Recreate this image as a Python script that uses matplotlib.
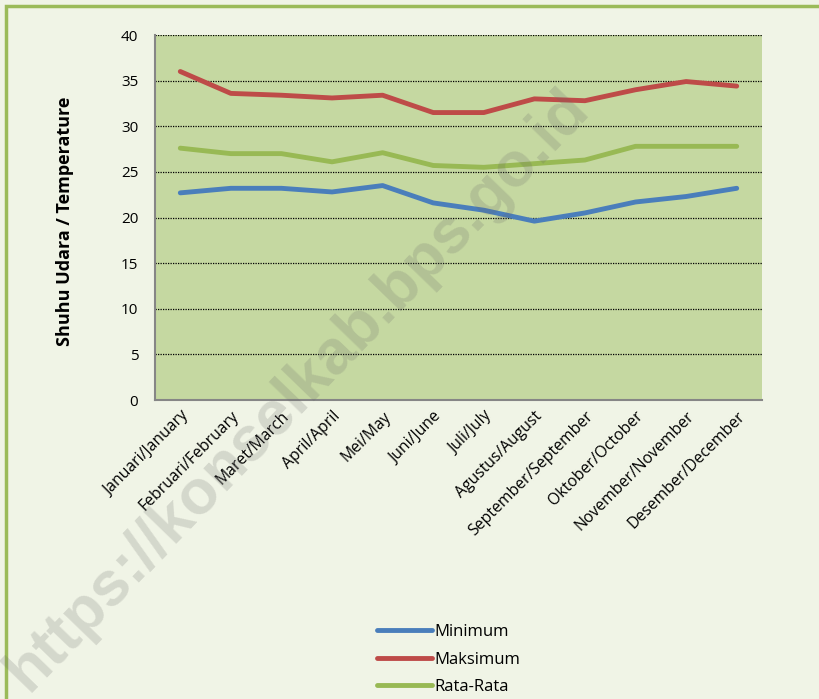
import matplotlib.pyplot as plt
from matplotlib.patches import Rectangle

months = ["Januari/January", "Februari/February", "Maret/March", "April/April",
          "Mei/May", "Juni/June", "Juli/July", "Agustus/August",
          "September/September", "Oktober/October", "November/November",
          "Desember/December"]
minimum = [22.7, 23.2, 23.2, 22.8, 23.5, 21.6, 20.8, 19.6, 20.5, 21.7, 22.3, 23.2]
maksimum = [36.0, 33.6, 33.4, 33.1, 33.4, 31.5, 31.5, 33.0, 32.8, 34.0, 34.9, 34.4]
rata = [27.6, 27.0, 27.0, 26.1, 27.1, 25.7, 25.5, 25.9, 26.3, 27.8, 27.8, 27.8]
yticks = [0, 5, 10, 15, 20, 25, 30, 35, 40]

plt.rcParams['font.family'] = ['Open Sans', 'DejaVu Sans']

fig = plt.figure(figsize=(8.19, 6.99), dpi=100)
fig.patch.set_facecolor('#F0F4E6')
# green frame around the chart
fig.patches.append(Rectangle((6 / 819, -0.05), 1.1, 1 - 6 / 699 + 0.05,
                             transform=fig.transFigure, fill=False,
                             edgecolor='#9BBB59', linewidth=2.5))

ax = fig.add_axes([155 / 819, 1 - 400 / 699, 607 / 819, 365 / 699])
ax.set_facecolor('#C5D8A1')

x = range(len(months))
ax.plot(x, minimum, color='#4A7EBB', lw=3.5, label='Minimum', solid_capstyle='round')
ax.plot(x, maksimum, color='#BE4B48', lw=3.5, label='Maksimum', solid_capstyle='round')
ax.plot(x, rata, color='#98B954', lw=3.5, label='Rata-Rata', solid_capstyle='round')

ax.set_xlim(-0.5, len(months) - 0.5)
ax.set_ylim(0, 40)
ax.set_yticks(yticks)
ax.yaxis.grid(True, linestyle=(0, (1, 1)), color='black', linewidth=0.9)
ax.set_axisbelow(True)
ax.set_xticks(list(x))
ax.set_xticklabels(months, rotation=45, ha='right', rotation_mode='anchor', fontsize=11.3)
ax.tick_params(axis='both', length=0)
ax.tick_params(axis='y', labelsize=11, pad=12)
ax.tick_params(axis='x', pad=6)

for s in ['top', 'right']:
    ax.spines[s].set_visible(False)
for s in ['left', 'bottom']:
    ax.spines[s].set_color('#868686')
    ax.spines[s].set_linewidth(1.5)

fig.text(65 / 819, 1 - 221 / 699, 'Shuhu Udara / Temperature', rotation=90,
         fontsize=13, fontweight='bold', ha='center', va='center')

fig.legend(loc='lower center', bbox_to_anchor=(0.548, -0.016), ncol=1, frameon=False,
           fontsize=12, handlelength=3.3, handletextpad=0.15, labelspacing=0.7)

# watermark
fig.text(0.363, 0.442, 'https://konselkab.bps.go.id', rotation=46, fontsize=45,
         fontweight='bold', color='#666666', alpha=0.2, ha='center', va='center',
         family='Liberation Sans')

fig.savefig('out.png', dpi=100, facecolor=fig.get_facecolor())
